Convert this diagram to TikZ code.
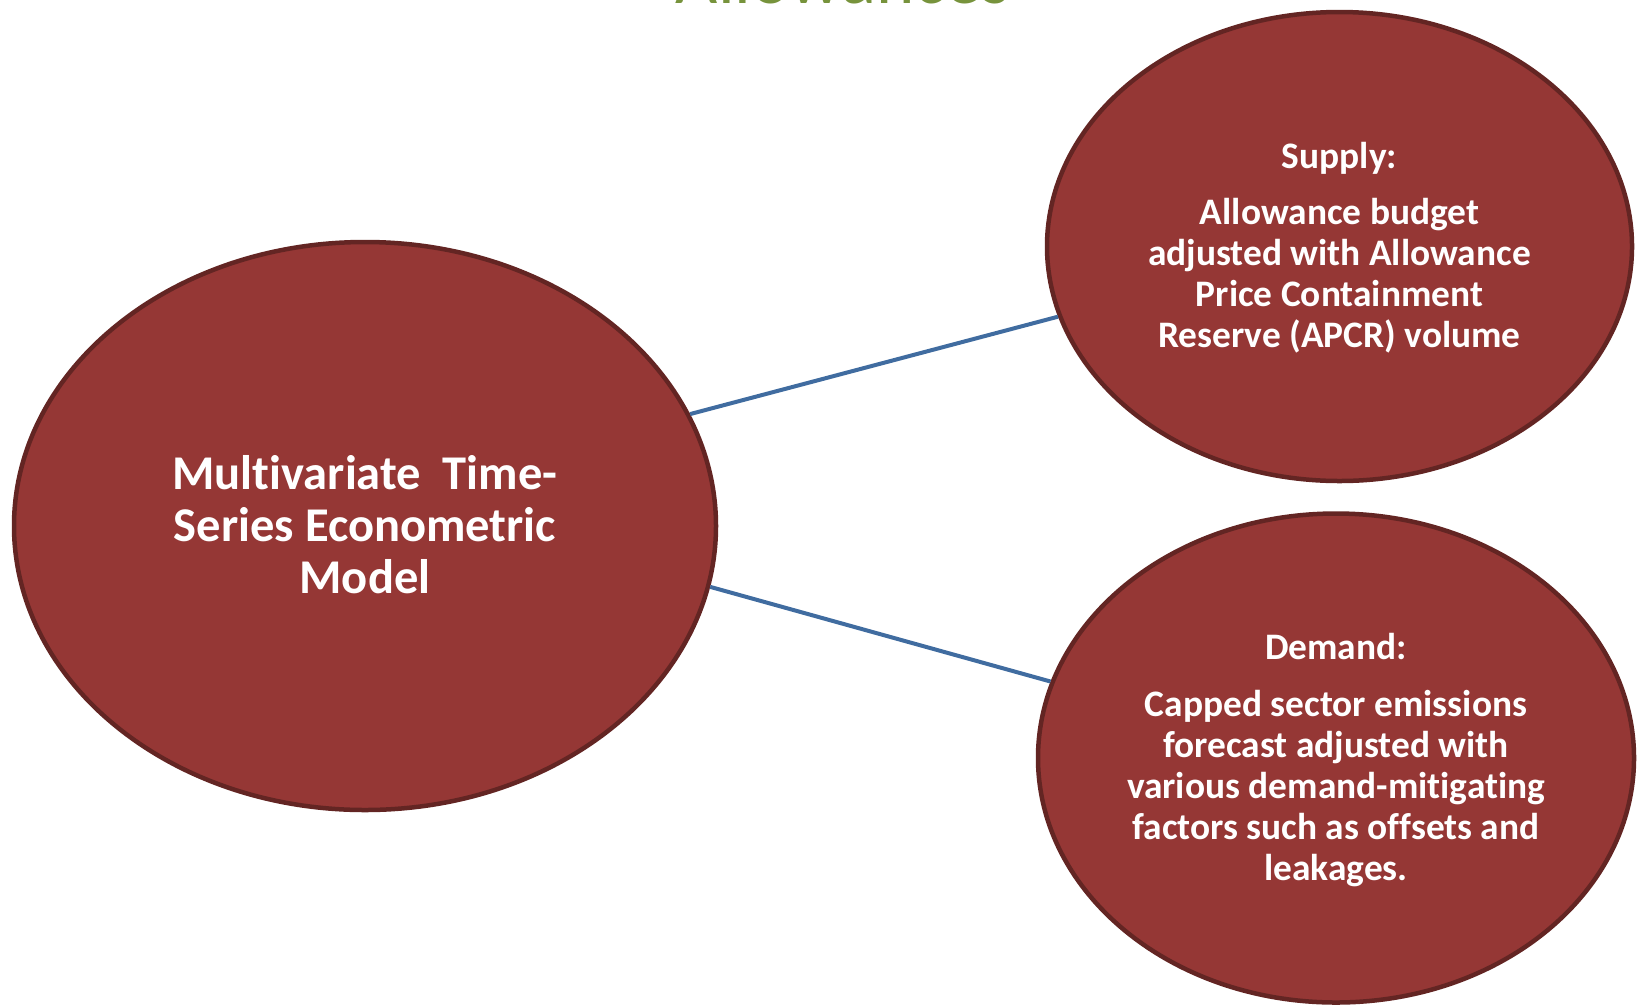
\documentclass[tikz,border=0pt]{standalone}
\usepackage{fontspec}
\setmainfont{Carlito}[Ligatures=NoCommon]
\usetikzlibrary{shapes.geometric}
\definecolor{ellfill}{RGB}{149,55,53}
\definecolor{ellline}{RGB}{99,37,35}
\definecolor{linkblue}{RGB}{64,108,160}
\definecolor{titlegreen}{RGB}{119,147,60}
\begin{document}
\begin{tikzpicture}[x=1pt,y=-1pt,
  bubble/.style={ellipse,draw=ellline,fill=ellfill,line width=4.5pt,inner sep=0pt},
  bubbletext/.style={text=white,align=center,inner sep=0pt},
  link/.style={draw=linkblue,line width=4pt}]
\useasboundingbox (0,0) rectangle (1637,1005);
\node[anchor=base,text=titlegreen,font=\fontsize{73}{80}\selectfont] (title) at (843,3.5) {Allowances};
\node[bubble,minimum width=702pt,minimum height=568pt] (model) at (365,526) {};
\node[bubble,minimum width=585pt,minimum height=469pt] (supply) at (1339.5,246.5) {};
\node[bubble,minimum width=596pt,minimum height=489pt] (demand) at (1336,758) {};
\draw[link] (model.19.5) -- (supply.194);
\draw[link] (model.-10.3) -- (demand.165);
\node[bubbletext,font=\bfseries\fontsize{48.5}{52}\selectfont] (modeltext) at (365,524.5)
  {Multivariate\ \ Time-\\Series Econometric\\Model};
\node[bubbletext,font=\bfseries\fontsize{37.4}{41}\selectfont] (supplytext) at (1339.5,247.5)
  {Supply:\\[15.5pt]Allowance budget\\adjusted with Allowance\\Price Containment\\Reserve (APCR) volume};
\node[bubbletext,font=\bfseries\fontsize{37.4}{41}\selectfont] (demandtext) at (1336,760.5)
  {Demand:\\[16pt]Capped sector emissions\\forecast adjusted with\\various demand-mitigating\\factors such as offsets and\\leakages.};
\end{tikzpicture}
\end{document}
